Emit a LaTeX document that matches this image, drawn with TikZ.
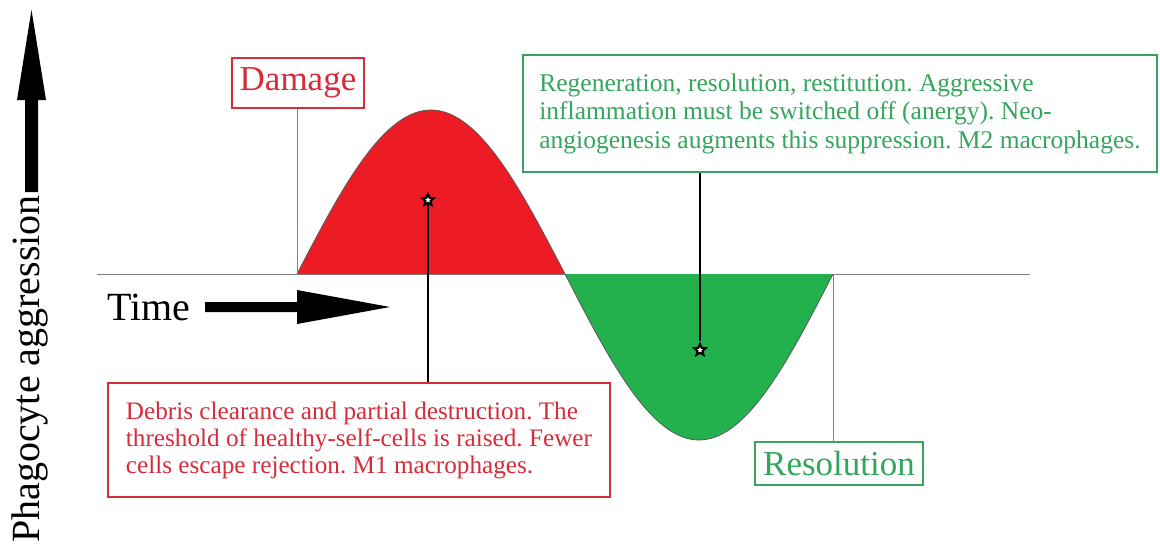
\documentclass[tikz,border=0pt]{standalone}
\usepackage{fontspec}
\setmainfont{Liberation Serif}
\newfontfamily\timesfont{Liberation Serif}
\usetikzlibrary{shapes.geometric}
\definecolor{wred}{RGB}{237,28,36}
\definecolor{wgreen}{RGB}{34,177,76}
\definecolor{tred}{RGB}{214,44,58}
\definecolor{tgreen}{RGB}{52,165,92}
\tikzset{
  redbox/.style={draw=tred, line width=1.6pt, text=tred, inner sep=0pt},
  greenbox/.style={draw=tgreen, line width=1.6pt, text=tgreen, inner sep=0pt},
  bigtext/.style={font=\timesfont\fontsize{35}{40}\selectfont},
  redtext/.style={font=\timesfont\fontsize{25.2}{27}\selectfont, align=left},
  greentext/.style={font=\timesfont\fontsize{25.5}{28.5}\selectfont, align=left},
  axistext/.style={font=\timesfont\fontsize{40}{42}\selectfont},
  grayline/.style={draw=black!50, line width=1pt},
  pointer/.style={draw=black, line width=2.8pt},
  starmark/.style={star, star points=5, star point ratio=2.2, minimum size=12pt, inner sep=0pt, draw=black, line width=2pt, fill=white},
  curveline/.style={draw=black!65, line width=0.8pt}
}
\begin{document}
\frenchspacing
\begin{tikzpicture}[x=1pt,y=-1pt]
\useasboundingbox (0,0) rectangle (1160,546);
% axis
\coordinate (ax0) at (97,274);
\coordinate (ax1) at (1030,274);
\coordinate (c0) at (297,274);
\coordinate (c1) at (565,274);
\coordinate (c2) at (833,274);
\draw[grayline] (ax0) -- (ax1);
% curve
\fill[wred] plot[domain=0:180, samples=80] ({297+1.48889*\x}, {274-164*sin(\x)}) -- cycle;
\fill[wgreen] plot[domain=0:180, samples=80] ({565+1.48889*\x}, {274+166*sin(\x)}) -- cycle;
\draw[curveline] plot[domain=0:180, samples=80] ({297+1.48889*\x}, {274-164*sin(\x)});
\draw[curveline] plot[domain=0:180, samples=80] ({565+1.48889*\x}, {274+166*sin(\x)});
% vertical axis arrow
\fill[black] (25,192) -- (25,100) -- (17,100) -- (31.5,10) -- (46,100) -- (38,100) -- (38,192) -- cycle;
\node[rotate=90, axistext] (ylab) at (30,369) {Phagocyte aggression};
% time
\node[anchor=base west, axistext, inner sep=0pt] (time) at (107,320) {Time};
\fill[black] (205,302) -- (297,302) -- (297,290) -- (390,307) -- (297,324) -- (297,312) -- (205,312) -- cycle;
% labels
\node[redbox, bigtext, minimum width=132pt, minimum height=50pt] (dmg) at (298,83) {Damage};
\draw[grayline] (dmg.south -| c0) -- (c0);
\node[greenbox, bigtext, minimum width=168pt, minimum height=43pt] (res) at (839,463.5) {Resolution};
\draw[grayline] (c2) -- (res.north -| c2);
% text boxes
\node[redbox, redtext, inner xsep=15pt, minimum width=502pt, minimum height=114pt] (rbox) at (359,440) {Debris clearance and partial destruction. The\\threshold of healthy-self-cells is raised. Fewer\\cells escape rejection. M1 macrophages.};
\node[greenbox, greentext, inner xsep=12pt, minimum width=634pt, minimum height=117pt] (gbox) at (840,113.5) {Regeneration, resolution, restitution. Aggressive\\inflammation must be switched off (anergy). Neo-\\angiogenesis augments this suppression. M2 macrophages.};
% stars and pointers
\node[starmark] (s1) at (428,200) {};
\node[starmark] (s2) at (700,350) {};
\draw[pointer] (s1) -- (rbox.north -| s1);
\draw[pointer] (gbox.south -| s2) -- (s2);
\end{tikzpicture}
\end{document}
